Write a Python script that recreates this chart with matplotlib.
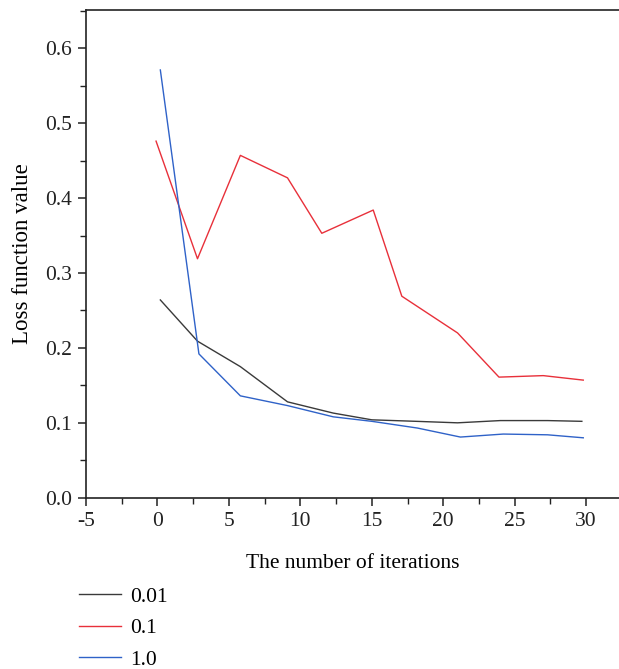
import numpy as np
import matplotlib.pyplot as plt
from matplotlib.ticker import MultipleLocator

plt.rcParams['font.family'] = ['Liberation Serif', 'DejaVu Serif']

# iterations
x_001 = [0.2, 2.8, 5.8, 9.1, 12.3, 15.0, 18.1, 21.0, 24.0, 27.3, 29.7]
y_001 = [0.264, 0.209, 0.175, 0.128, 0.113, 0.104, 0.102, 0.100, 0.103, 0.103, 0.102]

x_01 = [-0.1, 2.8, 5.8, 9.1, 11.5, 15.1, 17.1, 21.0, 23.9, 27.0, 29.8]
y_01 = [0.476, 0.319, 0.457, 0.427, 0.353, 0.384, 0.269, 0.220, 0.161, 0.163, 0.157]

x_10 = [0.2, 2.9, 5.8, 9.1, 12.3, 15.0, 18.2, 21.2, 24.2, 27.3, 29.8]
y_10 = [0.571, 0.192, 0.136, 0.123, 0.108, 0.102, 0.093, 0.081, 0.085, 0.084, 0.080]

fig = plt.figure(figsize=(6.19, 6.69), dpi=100)
ax = fig.add_axes([0.139, 0.256, 0.861, 0.729])

ax.plot(x_001, y_001, color='#3a3a3a', linewidth=1.0, label='0.01')
ax.plot(x_01, y_01, color='#e8303a', linewidth=1.0, label='0.1')
ax.plot(x_10, y_10, color='#2f62c8', linewidth=1.0, label='1.0')

ax.set_xlim(-5, 32.3)
ax.set_ylim(0, 0.651)
ax.xaxis.set_minor_locator(MultipleLocator(2.5))
ax.yaxis.set_minor_locator(MultipleLocator(0.05))
ax.set_xticks(np.arange(-5, 31, 5))
ax.set_xticklabels(['-5', '0', '5', '10', '15', '20', '25', '30'])
ax.set_yticks(np.arange(0, 0.61, 0.1))
ax.set_yticklabels(['0.0', '0.1', '0.2', '0.3', '0.4', '0.5', '0.6'])

ax.spines['right'].set_visible(False)
for s in ['left', 'bottom', 'top']:
    ax.spines[s].set_linewidth(1.2)
    ax.spines[s].set_color('#222222')

ax.tick_params(which='major', direction='out', length=6, width=1.1, labelsize=15.5,
               colors='#222222', pad=4)
ax.tick_params(which='minor', direction='out', length=4, width=1.0, colors='#222222')
ax.tick_params(axis='x', which='both', top=False)
ax.tick_params(axis='y', which='both', right=False)

ax.set_xlabel('The number of iterations', fontsize=15.5, labelpad=17)
ax.set_ylabel('Loss function value', fontsize=16.5, labelpad=9)

fig.legend(loc='upper left', bbox_to_anchor=(0.111, 0.139), frameon=False,
           fontsize=15.5, handlelength=1.95, handletextpad=0.42, labelspacing=0.53,
           borderpad=0)

plt.savefig('out.png', dpi=100)
